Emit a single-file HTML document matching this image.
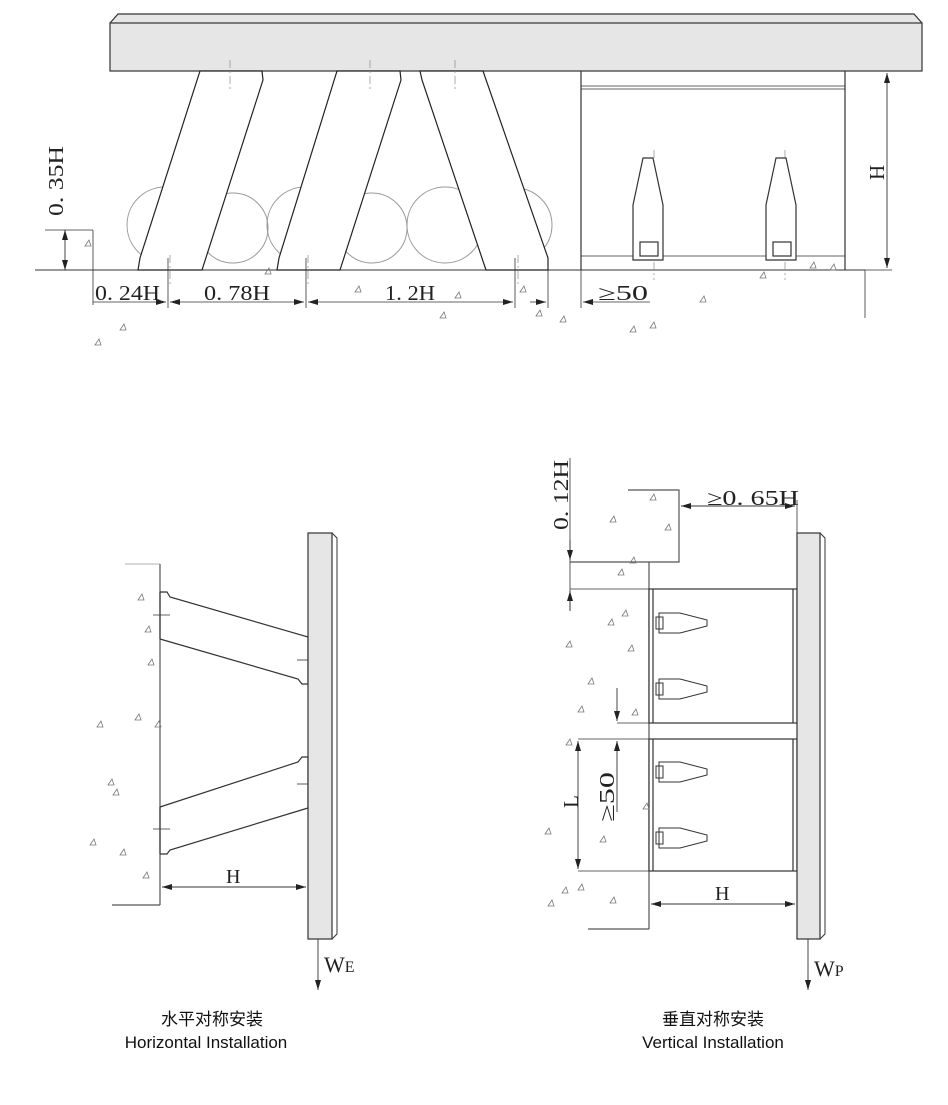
<!DOCTYPE html>
<html><head><meta charset="utf-8"><style>
html,body{margin:0;padding:0;background:#fff;}
svg{display:block}
text{font-family:"Liberation Serif",serif;fill:#222}
.cap{font-family:"Liberation Sans","Noto Sans CJK SC",sans-serif;font-size:17px;fill:#111;text-anchor:middle}
</style></head><body>
<svg width="948" height="1105" viewBox="0 0 948 1105" xmlns="http://www.w3.org/2000/svg">
<defs>
<marker id="a" viewBox="0 0 10 6" refX="10" refY="3" markerWidth="10" markerHeight="6" orient="auto-start-reverse" markerUnits="userSpaceOnUse"><path d="M0,0 L10,3 L0,6z" fill="#222"/></marker>
<g id="tri"><path d="M0,0 l4,-6 l2,6z" fill="none" stroke="#777" stroke-width="0.8"/></g>
</defs>
<g stroke="#333" stroke-width="1.2" fill="none">
<path d="M110,23 L118,14 L914,14 L922,23" fill="#e6e6e6"/>
<rect x="110" y="23" width="812" height="48" fill="#e6e6e6"/>
<line x1="35" y1="270" x2="865" y2="270" stroke-width="1"/>
<line x1="581" y1="71" x2="581" y2="270"/>
<line x1="845" y1="71" x2="845" y2="270"/>
<line x1="581" y1="86" x2="845" y2="86" stroke-width="0.8"/>
<line x1="581" y1="89" x2="845" y2="89" stroke-width="0.8"/>
<line x1="581" y1="256" x2="845" y2="256" stroke-width="0.8"/>
<g stroke="#999" stroke-width="1">
<circle cx="165" cy="225" r="38"/><circle cx="233" cy="228" r="35"/>
<circle cx="305" cy="225" r="38"/><circle cx="372" cy="228" r="35"/>
<circle cx="445" cy="225" r="38"/><circle cx="515" cy="225" r="37"/>
</g>
<g fill="#fff" stroke="#222">
<path d="M200,71 L262,71 L263,80 L202,270 L138,270 L140,258 Z"/>
<path d="M337,71 L400,71 L401,80 L340,270 L277,270 L279,258 Z"/>
<path d="M420,71 L483,71 L548,258 L548,270 L486,270 L422,80 Z"/>
</g>
<g stroke="#888" stroke-width="0.7" stroke-dasharray="8 3 2 3">
<line x1="230" y1="60" x2="230" y2="90"/><line x1="370" y1="60" x2="370" y2="90"/><line x1="455" y1="60" x2="455" y2="90"/>
<line x1="170" y1="255" x2="170" y2="285"/><line x1="308" y1="255" x2="308" y2="285"/><line x1="518" y1="255" x2="518" y2="285"/>
<line x1="654" y1="150" x2="654" y2="280"/><line x1="785" y1="150" x2="785" y2="280"/>
</g>
<path d="M643,158 L653,158 L663,205 L663,260 L633,260 L633,205 Z" fill="#fff"/>
<rect x="640" y="242" width="18" height="14" fill="#fff"/>
<path d="M776,158 L786,158 L796,205 L796,260 L766,260 L766,205 Z" fill="#fff"/>
<rect x="773" y="242" width="18" height="14" fill="#fff"/>
<line x1="845" y1="71" x2="892" y2="71" stroke-width="0.8"/>
<line x1="865" y1="270" x2="892" y2="270" stroke-width="0.8"/>
<line x1="865" y1="270" x2="865" y2="318" stroke-width="0.8"/>
<line x1="887" y1="73" x2="887" y2="268" stroke-width="0.9" marker-start="url(#a)" marker-end="url(#a)"/>
<line x1="45" y1="230" x2="93" y2="230" stroke-width="0.8"/>
<line x1="93" y1="230" x2="93" y2="305" stroke-width="0.8"/>
<line x1="65" y1="230" x2="65" y2="270" stroke-width="0.9" marker-start="url(#a)" marker-end="url(#a)"/>
<g stroke-width="0.8">
<line x1="168" y1="258" x2="168" y2="308"/><line x1="306" y1="258" x2="306" y2="308"/>
<line x1="515" y1="258" x2="515" y2="308"/><line x1="548" y1="270" x2="548" y2="308"/>
<line x1="581" y1="270" x2="581" y2="308"/>
<line x1="93" y1="302" x2="166" y2="302" marker-end="url(#a)"/>
<line x1="170" y1="302" x2="304" y2="302" marker-start="url(#a)" marker-end="url(#a)"/>
<line x1="308" y1="302" x2="513" y2="302" marker-start="url(#a)" marker-end="url(#a)"/>
<line x1="530" y1="302" x2="546" y2="302" marker-end="url(#a)"/>
<line x1="583" y1="302" x2="600" y2="302" marker-start="url(#a)"/>
<line x1="600" y1="302" x2="650" y2="302"/>
</g>
</g>
<g font-size="21">
<text x="95" y="300" textLength="65" lengthAdjust="spacingAndGlyphs">0. 24H</text>
<text x="204" y="300" textLength="66" lengthAdjust="spacingAndGlyphs">0. 78H</text>
<text x="385" y="300" textLength="50" lengthAdjust="spacingAndGlyphs">1. 2H</text>
<text x="598" y="300" textLength="50" lengthAdjust="spacingAndGlyphs">≥50</text>
<text transform="translate(63,216) rotate(-90)" textLength="70" lengthAdjust="spacingAndGlyphs">0. 35H</text>
<text transform="translate(884,180) rotate(-90)">H</text>
</g>
<g>
<use href="#tri" x="85" y="246"/><use href="#tri" x="265" y="274"/><use href="#tri" x="355" y="292"/><use href="#tri" x="440" y="318"/>
<use href="#tri" x="520" y="292"/><use href="#tri" x="536" y="316"/><use href="#tri" x="560" y="322"/><use href="#tri" x="630" y="332"/>
<use href="#tri" x="650" y="328"/><use href="#tri" x="700" y="302"/><use href="#tri" x="760" y="278"/><use href="#tri" x="810" y="268"/>
<use href="#tri" x="120" y="330"/><use href="#tri" x="95" y="345"/><use href="#tri" x="455" y="298"/><use href="#tri" x="830" y="270"/>
</g>

<g stroke="#333" stroke-width="1.2" fill="none">
<line x1="160" y1="564" x2="160" y2="905" stroke="#555"/>
<line x1="112" y1="905" x2="160" y2="905" stroke="#555"/>
<line x1="125" y1="564" x2="160" y2="564" stroke="#999" stroke-width="0.8"/>
<path d="M160,592 L167,592 L170,597 L308,637 L308,684 L302,684 L298,679 L160,639"/>
<path d="M160,807 L298,762 L302,757 L308,757 L308,808 L170,850 L167,854 L160,854"/>
<line x1="160" y1="592" x2="160" y2="639"/><line x1="160" y1="807" x2="160" y2="854"/>
<g stroke-width="0.8"><line x1="153" y1="615" x2="170" y2="615"/><line x1="297" y1="660" x2="310" y2="660"/>
<line x1="297" y1="784" x2="310" y2="784"/><line x1="153" y1="829" x2="170" y2="829"/></g>
<rect x="308" y="533" width="24" height="406" fill="#e6e6e6"/>
<path d="M332,533 L337,538 L337,934 L332,939" stroke-width="1"/>
<line x1="162" y1="887" x2="306" y2="887" stroke-width="0.9" marker-start="url(#a)" marker-end="url(#a)"/>
<line x1="318" y1="939" x2="318" y2="990" stroke-width="0.9" marker-end="url(#a)"/>
</g>
<text x="226" y="883" font-size="20">H</text>
<text x="324" y="972" font-size="22">W<tspan font-size="16">E</tspan></text>
<g>
<use href="#tri" x="138" y="600"/><use href="#tri" x="145" y="632"/><use href="#tri" x="148" y="665"/><use href="#tri" x="135" y="720"/>
<use href="#tri" x="97" y="727"/><use href="#tri" x="108" y="785"/><use href="#tri" x="113" y="795"/><use href="#tri" x="90" y="845"/>
<use href="#tri" x="120" y="855"/><use href="#tri" x="143" y="878"/><use href="#tri" x="155" y="727"/>
</g>

<g stroke="#333" stroke-width="1.2" fill="none">
<path d="M628,490 L679,490 L679,562 L570,562" stroke="#555"/>
<line x1="570" y1="458" x2="570" y2="610" stroke-width="0.8"/>
<line x1="570" y1="589" x2="649" y2="589" stroke-width="0.8"/>
<line x1="570" y1="540" x2="570" y2="560" stroke-width="0.9" marker-end="url(#a)"/>
<line x1="570" y1="611" x2="570" y2="591" stroke-width="0.9" marker-end="url(#a)"/>
<line x1="649" y1="562" x2="649" y2="929" stroke="#555"/>
<line x1="588" y1="929" x2="649" y2="929" stroke="#555"/>
<rect x="649" y="589" width="148" height="134" fill="#fff"/>
<rect x="649" y="739" width="148" height="132" fill="#fff"/>
<line x1="653" y1="589" x2="653" y2="723"/><line x1="793" y1="589" x2="793" y2="723"/>
<line x1="653" y1="739" x2="653" y2="871"/><line x1="793" y1="739" x2="793" y2="871"/>
<line x1="617" y1="723" x2="649" y2="723" stroke-width="0.8"/>
<line x1="578" y1="739" x2="649" y2="739" stroke-width="0.8"/>
<line x1="578" y1="871" x2="649" y2="871" stroke-width="0.8"/>
<line x1="617" y1="688" x2="617" y2="721" stroke-width="0.9" marker-end="url(#a)"/>
<line x1="617" y1="812" x2="617" y2="741" stroke-width="0.9" marker-end="url(#a)"/>
<line x1="578" y1="741" x2="578" y2="869" stroke-width="0.9" marker-start="url(#a)" marker-end="url(#a)"/>
<rect x="797" y="533" width="23" height="406" fill="#e6e6e6"/>
<path d="M820,533 L825,538 L825,934 L820,939" stroke-width="1"/>
<line x1="797" y1="500" x2="797" y2="533" stroke-width="0.8"/>
<line x1="681" y1="506" x2="795" y2="506" stroke-width="0.9" marker-start="url(#a)" marker-end="url(#a)"/>
<line x1="651" y1="904" x2="795" y2="904" stroke-width="0.9" marker-start="url(#a)" marker-end="url(#a)"/>
<line x1="808" y1="939" x2="808" y2="990" stroke-width="0.9" marker-end="url(#a)"/>
<g stroke-width="1">
<path d="M659,613 L680,613 L707,620 L707,626 L680,633 L659,633 Z" fill="#fff"/>
<path d="M659,679 L680,679 L707,686 L707,692 L680,699 L659,699 Z" fill="#fff"/>
<path d="M659,762 L680,762 L707,769 L707,775 L680,782 L659,782 Z" fill="#fff"/>
<path d="M659,828 L680,828 L707,835 L707,841 L680,848 L659,848 Z" fill="#fff"/>
<rect x="656" y="617" width="7" height="12"/><rect x="656" y="683" width="7" height="12"/>
<rect x="656" y="766" width="7" height="12"/><rect x="656" y="832" width="7" height="12"/>
</g>
</g>
<g font-size="21">
<text transform="translate(568,530) rotate(-90)" textLength="70" lengthAdjust="spacingAndGlyphs">0. 12H</text>
<text x="707" y="505" textLength="92" lengthAdjust="spacingAndGlyphs">≥0. 65H</text>
<text transform="translate(578,808) rotate(-90)">L</text>
<text transform="translate(614,822) rotate(-90)" textLength="50" lengthAdjust="spacingAndGlyphs">≥50</text>
<text x="715" y="900" font-size="20">H</text>
<text x="814" y="976" font-size="22">W<tspan font-size="16">P</tspan></text>
</g>
<g>
<use href="#tri" x="650" y="500"/><use href="#tri" x="610" y="522"/><use href="#tri" x="665" y="530"/><use href="#tri" x="630" y="563"/>
<use href="#tri" x="618" y="575"/><use href="#tri" x="622" y="616"/><use href="#tri" x="608" y="625"/><use href="#tri" x="566" y="647"/>
<use href="#tri" x="628" y="651"/><use href="#tri" x="588" y="684"/><use href="#tri" x="578" y="712"/><use href="#tri" x="632" y="715"/>
<use href="#tri" x="566" y="745"/><use href="#tri" x="545" y="834"/><use href="#tri" x="600" y="842"/><use href="#tri" x="562" y="893"/>
<use href="#tri" x="578" y="890"/><use href="#tri" x="610" y="903"/><use href="#tri" x="548" y="906"/><use href="#tri" x="643" y="809"/>
</g>

<text class="cap" x="212" y="1025">水平对称安装</text>
<text class="cap" x="206" y="1048">Horizontal Installation</text>
<text class="cap" x="713" y="1025">垂直对称安装</text>
<text class="cap" x="713" y="1048">Vertical Installation</text>
</svg>
</body></html>
